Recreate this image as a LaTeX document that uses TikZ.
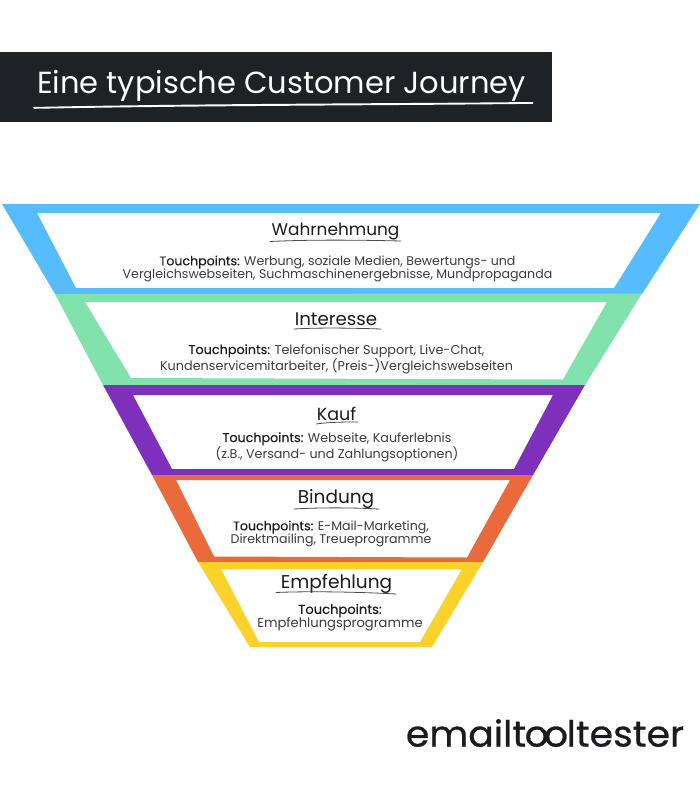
\documentclass[tikz,border=0pt]{standalone}
\usepackage{fontspec}
\setmainfont{Poppins}
\newfontfamily\tpfont[FakeBold=0.15]{Poppins}
\newfontfamily\logofont[FakeStretch=1.05,FakeBold=0.7]{Poppins}
\definecolor{band}{HTML}{1E2126}
\definecolor{cblue}{HTML}{57BCFB}
\definecolor{cgreen}{HTML}{82E2AE}
\definecolor{cpurple}{HTML}{7E30BC}
\definecolor{corange}{HTML}{EB6A3C}
\definecolor{cyellow}{HTML}{FBD22C}
\definecolor{ink}{HTML}{1B1B1F}
\definecolor{body}{HTML}{3C3C40}
\tikzset{
  heading/.style={font=\fontsize{#1}{20}\selectfont, text=ink, inner sep=0pt},
  heading/.default=16.9,
  bodytext/.style={font=\fontsize{#1}{13.6}\selectfont, text=body, inner sep=0pt, align=center},
  bodytext/.default=12.6,
  uline/.style={draw=ink!80, line width=0.8pt, line cap=round},
}
\newcommand{\tp}{{\tpfont\color{ink}Touchpoints:}}
\begin{document}
\begin{tikzpicture}[x=1pt,y=-1pt]
\useasboundingbox (0,0) rectangle (700,800);
\fill[white] (0,0) rectangle (700,800);
% title band
\fill[band] (0,52) rectangle (552,122);
\node[text=white,inner sep=0pt,font=\fontsize{30.5}{34}\selectfont] (title) at (281.5,85.5) {Eine typische Customer Journey};
\fill[white] (33,107) .. controls (200,103.5) and (400,103.5) .. (533,102) -- (533,103.8) .. controls (400,105.5) and (200,105.5) .. (34,108.8) -- cycle;
% funnel
\fill[cblue,even odd rule] (2,204) -- (700,204) -- (642,294) -- (55,294) -- cycle
  (37,213) -- (661,213) -- (614,288) -- (76,288) -- cycle;
\fill[cgreen,even odd rule] (55,294) -- (642,293.5) -- (585,385) -- (103,385) -- cycle
  (85,302) -- (607,302) -- (563,379.5) -- (131,378) -- cycle;
\fill[cpurple,even odd rule] (103,385) -- (585,385) -- (533,475) -- (152,475) -- cycle
  (133,395) -- (553,395) -- (514,469) -- (172,469) -- cycle;
\fill[corange,even odd rule] (152,475) -- (533,475) -- (483,562) -- (198,562) -- cycle
  (176,480) -- (510,480) -- (467,557.5) -- (214,556.5) -- cycle;
\fill[cyellow,even odd rule] (198,562) -- (483,562) -- (432,647) -- (250,647) -- cycle
  (221,569) -- (462,569) -- (420,642) -- (259,642) -- cycle;
% stage texts
\node[heading] (h1) at (335.5,232) {Wahrnehmung};
\draw[uline] (270,241.5) .. controls (310,239.5) and (360,240) .. (401,241);
\node[bodytext] (b1) at (337.5,269) {\tp{} Werbung, soziale Medien, Bewertungs- und\\Vergleichswebseiten, Suchmaschinenergebnisse, Mundpropaganda};
\node[heading=18.2] (h2) at (336,319) {Interesse};
\draw[uline] (294,329) .. controls (320,327.5) and (350,328) .. (381,329);
\node[bodytext=12.8] (b2) at (336.5,359) {\tp{} Telefonischer Support, Live-Chat,\\Kundenservicemitarbeiter, (Preis-)Vergleichswebseiten};
\node[heading=17.5] (h3) at (336.5,414) {Kauf};
\draw[uline] (316,424) .. controls (330,422) and (345,422) .. (358,422);
\node[bodytext=12.7] (b3) at (337,447) {\tp{} Webseite, Kauferlebnis\\(z.B., Versand- und Zahlungsoptionen)};
\node[heading=18.5] (h4) at (336,499) {Bindung};
\draw[uline] (294,509) .. controls (320,507.5) and (350,507.5) .. (379,509);
\node[bodytext] (b4) at (331,534) {\tp{} E-Mail-Marketing,\\Direktmailing, Treueprogramme};
\node[heading=18.5] (h5) at (336.5,584) {Empfehlung};
\draw[uline] (276,592.5) .. controls (310,591) and (360,592) .. (396,594);
\node[bodytext=13.1] (b5) at (340,617.5) {\tp\\Empfehlungsprogramme};
% logo
\node[inner sep=0pt,text=ink,font=\fontsize{36}{40}\logofont] (logo) at (545,733) {emailt\kern-1.5pt o\kern-5pt o\kern-1.5pt ltester};
\end{tikzpicture}
\end{document}
